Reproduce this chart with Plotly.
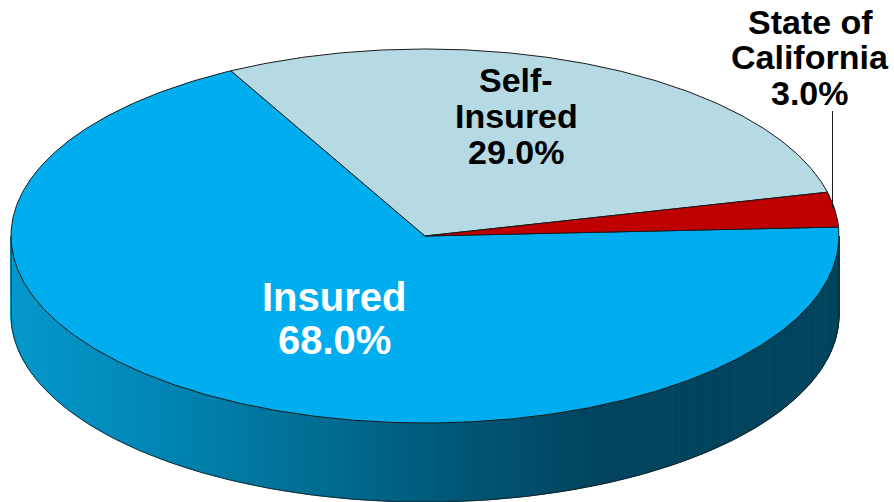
import numpy as np
import plotly.graph_objects as go

categories = ["Insured", "Self-Insured", "State of California"]
shares = [68.0, 29.0, 3.0]
label_lines = [["Insured", "68.0%"], ["Self-", "Insured", "29.0%"], ["State of", "California", "3.0%"]]

# Drawing set-up (ellipse in pixels of the 894x502 page)
CX, CY, RX, RY, DEPTH = 425.0, 236.0, 414.0, 187.0, 79.0
START_DEG = 2.75
SLICE_COLORS = ["#00ADEF", "#B5DAE4", "#BF0000"]
TEXT_COLORS = ["white", "black", "black"]
EDGE = "#1a1a1a"
LABEL_POS = [(334, [297, 340]), (516, [80, 116, 152]), (810, [22, 57, 93])]
LABEL_SIZE = [40, 34, 34]
WALL_X = [11, 150, 300, 450, 600, 839]
WALL_RGB = [(6, 152, 204), (0, 135, 182), (0, 112, 150), (0, 88, 120), (0, 68, 94), (0, 68, 94)]

fig = go.Figure()


def ex(t):
    return CX + RX * np.cos(t)


def ey(t):
    return CY - RY * np.sin(t)


def add_poly(x, y, fill=None, line=EDGE, width=1.0):
    fig.add_trace(go.Scatter(
        x=list(x), y=list(y), mode="lines", hoverinfo="skip", showlegend=False,
        line=dict(color=line, width=width),
        fill="toself" if fill else "none", fillcolor=fill,
    ))


# Side wall: thin strips shaded by horizontal position
edges = np.radians(np.linspace(180, 360, 271))
for a, b in zip(edges[:-1], edges[1:]):
    t = np.linspace(a, b, 4)
    xs = np.r_[ex(t), ex(t[::-1])]
    ys = np.r_[ey(t), ey(t[::-1]) + DEPTH]
    xm = ex((a + b) / 2)
    rgb = [np.interp(xm, WALL_X, [c[i] for c in WALL_RGB]) for i in range(3)]
    col = "rgb(%d,%d,%d)" % tuple(int(round(v)) for v in rgb)
    add_poly(np.r_[xs, xs[0]], np.r_[ys, ys[0]], fill=col, line=col, width=1.0)

# Wall outline
t = np.radians(np.linspace(180, 360, 240))
add_poly(np.r_[ex(t[0]), ex(t), ex(t[-1])],
         np.r_[ey(t[0]), ey(t) + DEPTH, ey(t[-1])], width=0.8)

# Top slices, clockwise from the start angle
pos = START_DEG
for value, col in zip(shares, SLICE_COLORS):
    sweep = value / sum(shares) * 360.0
    t = np.radians(np.linspace(pos, pos - sweep, max(8, int(sweep * 2))))
    add_poly(np.r_[CX, ex(t), CX], np.r_[CY, ey(t), CY], fill=col, width=1.0)
    pos -= sweep

# Leader line for the smallest slice
add_poly([832.5, 832.5], [111, 208], width=1.0)

# Labels
for lines, (x, ys), size, color in zip(label_lines, LABEL_POS, LABEL_SIZE, TEXT_COLORS):
    for line, y in zip(lines, ys):
        fig.add_annotation(x=x, y=y, text="<b>%s</b>" % line, showarrow=False,
                           xanchor="center", yanchor="middle",
                           font=dict(family="Liberation Sans, Arial, sans-serif", size=size, color=color))

fig.update_layout(
    width=894, height=502, margin=dict(l=0, r=0, t=0, b=0),
    paper_bgcolor="white", plot_bgcolor="white", showlegend=False,
    xaxis=dict(range=[0, 894], visible=False, fixedrange=True),
    yaxis=dict(range=[502, 0], visible=False, fixedrange=True),
)
fig.write_html("out.html", config={"displayModeBar": False},
               post_script="document.body.style.margin='0';document.body.style.overflow='hidden';")
